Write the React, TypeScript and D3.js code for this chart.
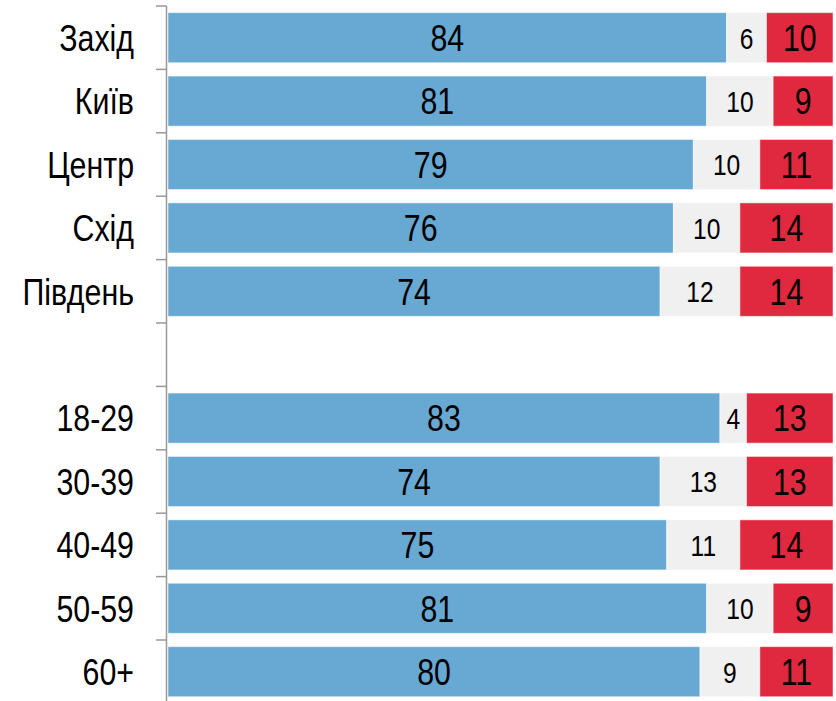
import React from "react";
import * as d3 from "d3";

const categories = ["Захід", "Київ", "Центр", "Схід", "Південь", "", "18-29", "30-39", "40-49", "50-59", "60+"];
const positive = [84, 81, 79, 76, 74, null, 83, 74, 75, 81, 80];
const neutral = [6, 10, 10, 10, 12, null, 4, 13, 11, 10, 9];
const negative = [10, 9, 11, 14, 14, null, 13, 13, 14, 9, 11];

const W = 836;
const H = 701;
const FONT = "'Liberation Sans', Arial, sans-serif";
const COLORS = ["#67A9D3", "#F0F0F0", "#E0293F"];
const NARROW = 0.82;

function NText({ x, y, anchor, size, children }: { x: number; y: number; anchor: string; size: number; children: any }) {
  return (
    <text
      transform={`translate(${x},${y}) scale(${NARROW},1)`}
      dy="0.36em"
      textAnchor={anchor}
      fontSize={size}
      fill="#000"
    >
      {children}
    </text>
  );
}

export default function App() {
  const keys = categories.map((c, i) => `${i}`);
  const y = d3.scaleBand<string>().domain(keys).range([6, 703.4]).paddingInner(0.21).paddingOuter(0.105);
  const x = d3.scaleLinear().domain([0, 100]).range([168, 833]);
  const step = y.step();
  const ticks = d3.range(categories.length + 1).map((i) => 6 + i * step);
  const rows = categories.map((c, i) => ({ c, i, vals: [positive[i], neutral[i], negative[i]] }));

  return (
    <svg width={W} height={H} style={{ position: "absolute", left: 0, top: 0, background: "#fff" }} fontFamily={FONT}>
      {rows.map((r) => {
        const y0 = y(`${r.i}`)!;
        const bh = y.bandwidth();
        const cy = y0 + bh / 2;
        if (r.vals[0] == null) return null;
        let acc = 0;
        return (
          <g key={r.i}>
            {r.vals.map((v, k) => {
              const start = acc;
              acc += v as number;
              const x0 = x(start);
              const x1 = x(acc);
              return (
                <g key={k}>
                  <rect x={x0} y={y0} width={x1 - x0} height={bh} fill={COLORS[k]} stroke="#ffffff" strokeOpacity={0.5} strokeWidth={1} />
                  <NText x={(x0 + x1) / 2} y={cy} anchor="middle" size={k === 1 ? 30 : 37}>
                    {v}
                  </NText>
                </g>
              );
            })}
            <NText x={134} y={cy} anchor="end" size={37}>
              {r.c}
            </NText>
          </g>
        );
      })}
      <line x1={166.5} x2={166.5} y1={ticks[0]} y2={ticks[ticks.length - 1]} stroke="#999" strokeWidth={1.5} />
      {ticks.map((t, i) => (
        <line key={i} x1={156} x2={166.5} y1={t} y2={t} stroke="#999" strokeWidth={1.5} />
      ))}
    </svg>
  );
}
